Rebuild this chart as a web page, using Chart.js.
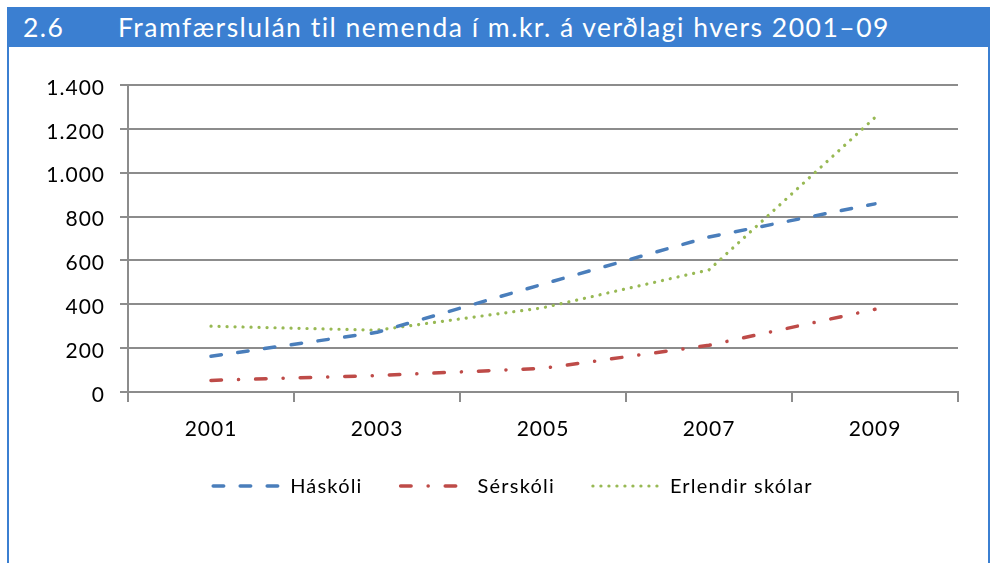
<!DOCTYPE html>
<html>
<head>
<meta charset="utf-8">
<script src="https://cdn.jsdelivr.net/npm/chart.js@4/dist/chart.umd.min.js"></script>
<style>
  html, body { margin: 0; padding: 0; background: #fff; }
  #wrap { position: relative; width: 992px; height: 563px; overflow: hidden; font-family: Lato, "Noto Sans", sans-serif; }
  #bar { position: absolute; left: 7px; top: 7px; width: 983px; height: 40px; background: #3b7fd1; color: #fff; font-size: 26.5px; letter-spacing: 1.5px; line-height: 32px; }
  #bar .num { position: absolute; left: 16px; top: 4px; }
  #bar .ttl { position: absolute; left: 111px; top: 4px; }
  #frameL { position: absolute; left: 7px; top: 47px; width: 2px; height: 520px; background: #3b7fd1; }
  #frameR { position: absolute; left: 988px; top: 47px; width: 2px; height: 520px; background: #3b7fd1; }
  canvas { position: absolute; left: 0; top: 0; }
</style>
</head>
<body>
<div id="wrap">
  <canvas id="chart" width="992" height="563"></canvas>
  <div id="bar"><span class="num">2.6</span><span class="ttl">Framfærslulán til nemenda í m.kr. á verðlagi hvers 2001–09</span></div>
  <div id="frameL"></div>
  <div id="frameR"></div>
</div>
<script>
// === Gögn ===
const years = ["2001", "2003", "2005", "2007", "2009"];
const seriesNames = ["Háskóli", "Sérskóli", "Erlendir skólar"];
const haskoli = [163, 272, 492, 707, 858];
const serskoli = [53, 75, 108, 213, 377];
const erlendir = [300, 282, 384, 557, 1252];

const FONT = "Lato, 'Noto Sans', sans-serif";

// the original text is set a bit loose, so widen canvas text too
const spacingPlugin = {
  id: "spacing",
  beforeLayout(chart) { chart.ctx.letterSpacing = "1px"; },
  beforeDraw(chart) { chart.ctx.letterSpacing = "1px"; }
};

// legend drawn by hand so the spacing matches the original
const legendPlugin = {
  id: "bottomLegend",
  afterDraw(chart) {
    const ctx = chart.ctx;
    const lineLen = 72, textGap = 7, itemGap = 36, cy = 486, cx = 512;
    ctx.save();
    ctx.font = "20px " + FONT;
    ctx.letterSpacing = "1.2px";
    ctx.textBaseline = "middle";
    const widths = chart.data.datasets.map(ds => lineLen + textGap + ctx.measureText(ds.label).width);
    const total = widths.reduce((a, b) => a + b, 0) + itemGap * (widths.length - 1);
    let x = cx - total / 2;
    chart.data.datasets.forEach((ds, i) => {
      ctx.beginPath();
      ctx.strokeStyle = ds.borderColor;
      ctx.lineWidth = ds.borderWidth;
      ctx.lineCap = ds.borderCapStyle;
      ctx.setLineDash(ds.borderDash);
      ctx.moveTo(x + 2, cy);
      ctx.lineTo(x + lineLen - 2, cy);
      ctx.stroke();
      ctx.setLineDash([]);
      ctx.fillStyle = "#000";
      ctx.fillText(ds.label, x + lineLen + textGap, cy + 1);
      x += widths[i] + itemGap;
    });
    ctx.restore();
  }
};

const fmt = v => String(v).replace(/\B(?=(\d{3})+(?!\d))/g, ".");

new Chart(document.getElementById("chart"), {
  type: "line",
  data: {
    labels: years,
    datasets: [
      {
        label: seriesNames[0],
        data: haskoli,
        borderColor: "#4a7ebb",
        borderWidth: 3.5,
        borderDash: [10.5, 16.5],
        borderCapStyle: "round",
        borderJoinStyle: "round",
        pointRadius: 0,
        fill: false
      },
      {
        label: seriesNames[1],
        data: serskoli,
        borderColor: "#be4b48",
        borderWidth: 3.5,
        borderDash: [10.5, 17, 0.1, 17],
        borderCapStyle: "round",
        borderJoinStyle: "round",
        pointRadius: 0,
        fill: false
      },
      {
        label: seriesNames[2],
        data: erlendir,
        borderColor: "#98b954",
        borderWidth: 3.2,
        borderDash: [0.1, 7.9],
        borderCapStyle: "round",
        borderJoinStyle: "round",
        pointRadius: 0,
        fill: false
      }
    ]
  },
  options: {
    responsive: false,
    animation: false,
    devicePixelRatio: 1,
    layout: { padding: { top: 85, right: 34, bottom: 111, left: 0 } },
    plugins: { legend: { display: false }, tooltip: { enabled: false } },
    scales: {
      x: {
        offset: true,
        grid: { offset: true, drawOnChartArea: false, color: "#8c8c8c", lineWidth: 2, tickLength: 10 },
        border: { color: "#8c8c8c", width: 2 },
        ticks: { color: "#000", font: { family: FONT, size: 21 }, padding: 15, maxRotation: 0 },
        afterFit: s => { s.height = 60; }
      },
      y: {
        min: 0,
        max: 1400,
        grid: { color: "#8c8c8c", lineWidth: 2, tickLength: 8 },
        border: { color: "#8c8c8c", width: 2 },
        ticks: { stepSize: 200, color: "#000", font: { family: FONT, size: 21 }, padding: 15, labelOffset: 3, callback: v => fmt(v) },
        afterFit: s => { s.width = 128; }
      }
    }
  },
  plugins: [spacingPlugin, legendPlugin]
});
</script>
</body>
</html>
